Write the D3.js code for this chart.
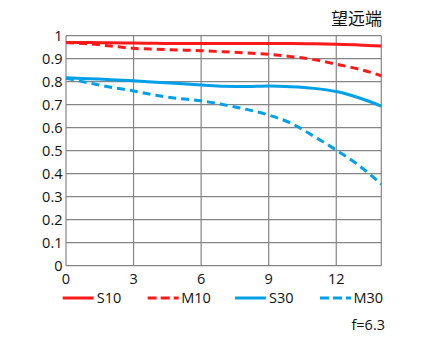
<!DOCTYPE html>
<html><head><meta charset="utf-8">
<script src="https://cdn.jsdelivr.net/npm/d3@7"></script>
<style>body{margin:0;background:#fff}svg{display:block}text{font-family:"Open Sans",sans-serif;fill:#111}</style>
</head><body><svg id="c" width="430" height="339"></svg>
<script>
const xPos = [0, 1, 2, 3, 4, 5, 6, 7, 8, 9, 10, 11, 12, 13, 14];
const s10 = [0.970, 0.970, 0.969, 0.968, 0.967, 0.966, 0.966, 0.966, 0.966, 0.966, 0.966, 0.965, 0.963, 0.960, 0.955];
const m10 = [0.970, 0.965, 0.955, 0.945, 0.941, 0.938, 0.935, 0.930, 0.925, 0.919, 0.909, 0.896, 0.876, 0.855, 0.826];
const s30 = [0.817, 0.813, 0.809, 0.804, 0.798, 0.792, 0.786, 0.780, 0.779, 0.781, 0.778, 0.771, 0.757, 0.730, 0.694];
const m30 = [0.815, 0.795, 0.776, 0.760, 0.741, 0.727, 0.717, 0.700, 0.680, 0.655, 0.619, 0.563, 0.503, 0.436, 0.355];
const xTicks = [0, 3, 6, 9, 12];
const yTicks = [0, 0.1, 0.2, 0.3, 0.4, 0.5, 0.6, 0.7, 0.8, 0.9, 1];
const seriesNames = ["S10", "M10", "S30", "M30"];
const title = "望远端";
const note = "f=6.3";

const svg = d3.select("#c");
const x = d3.scaleLinear().domain([0, 14]).range([66, 381.3]);
const y = d3.scaleLinear().domain([0, 1]).range([265.7, 35.7]);
const grid = "#858585";
const fs = 14.5;

svg.append("g").selectAll("line").data(yTicks).join("line")
  .attr("x1", x(0)).attr("x2", x(14)).attr("y1", d => y(d)).attr("y2", d => y(d))
  .attr("stroke", grid).attr("stroke-width", 1.2);
svg.append("g").selectAll("line").data(xTicks.concat([14])).join("line")
  .attr("x1", d => x(d)).attr("x2", d => x(d)).attr("y1", y(0)).attr("y2", y(1))
  .attr("stroke", grid).attr("stroke-width", 1.2);

svg.append("g").selectAll("text").data(yTicks).join("text")
  .attr("x", 62.5).attr("y", d => y(d) + 5.2).attr("text-anchor", "end")
  .attr("font-size", fs).text(d => d3.format("")(d));
svg.append("g").selectAll("text").data(xTicks).join("text")
  .attr("x", d => x(d)).attr("y", 283.5).attr("text-anchor", "middle")
  .attr("font-size", fs).text(d => d);

const series = [
  {name: seriesNames[0], vals: s10, color: "#ff1a1a", dash: null},
  {name: seriesNames[1], vals: m10, color: "#ff1a1a", dash: "8,5"},
  {name: seriesNames[2], vals: s30, color: "#00a0e9", dash: null},
  {name: seriesNames[3], vals: m30, color: "#00a0e9", dash: "8,5"}
];
const line = d3.line().x((d, i) => x(xPos[i])).y(d => y(d)).curve(d3.curveMonotoneX);
svg.append("g").selectAll("path").data(series).join("path")
  .attr("d", d => line(d.vals)).attr("fill", "none")
  .attr("stroke", d => d.color).attr("stroke-width", 3)
  .attr("stroke-dasharray", d => d.dash);

const legX = [62.7, 147.7, 235, 320];
const lg = svg.append("g").selectAll("g").data(series).join("g")
  .attr("transform", (d, i) => `translate(${legX[i]},298)`);
lg.append("line").attr("x1", 0).attr("x2", 31).attr("y1", 0).attr("y2", 0)
  .attr("stroke", d => d.color).attr("stroke-width", 3)
  .attr("stroke-dasharray", d => d.dash ? "9,4" : null);
lg.append("text").attr("x", d => d.dash ? 33.5 : 34).attr("y", 5.4)
  .attr("font-size", fs).text(d => d.name);

svg.append("text").attr("x", 382).attr("y", 24.5).attr("text-anchor", "end")
  .attr("font-size", 17).style("font-family", '"Noto Sans CJK SC", sans-serif').text(title);
svg.append("text").attr("x", 385).attr("y", 329.5).attr("text-anchor", "end")
  .attr("font-size", fs).text(note);
</script></body></html>
